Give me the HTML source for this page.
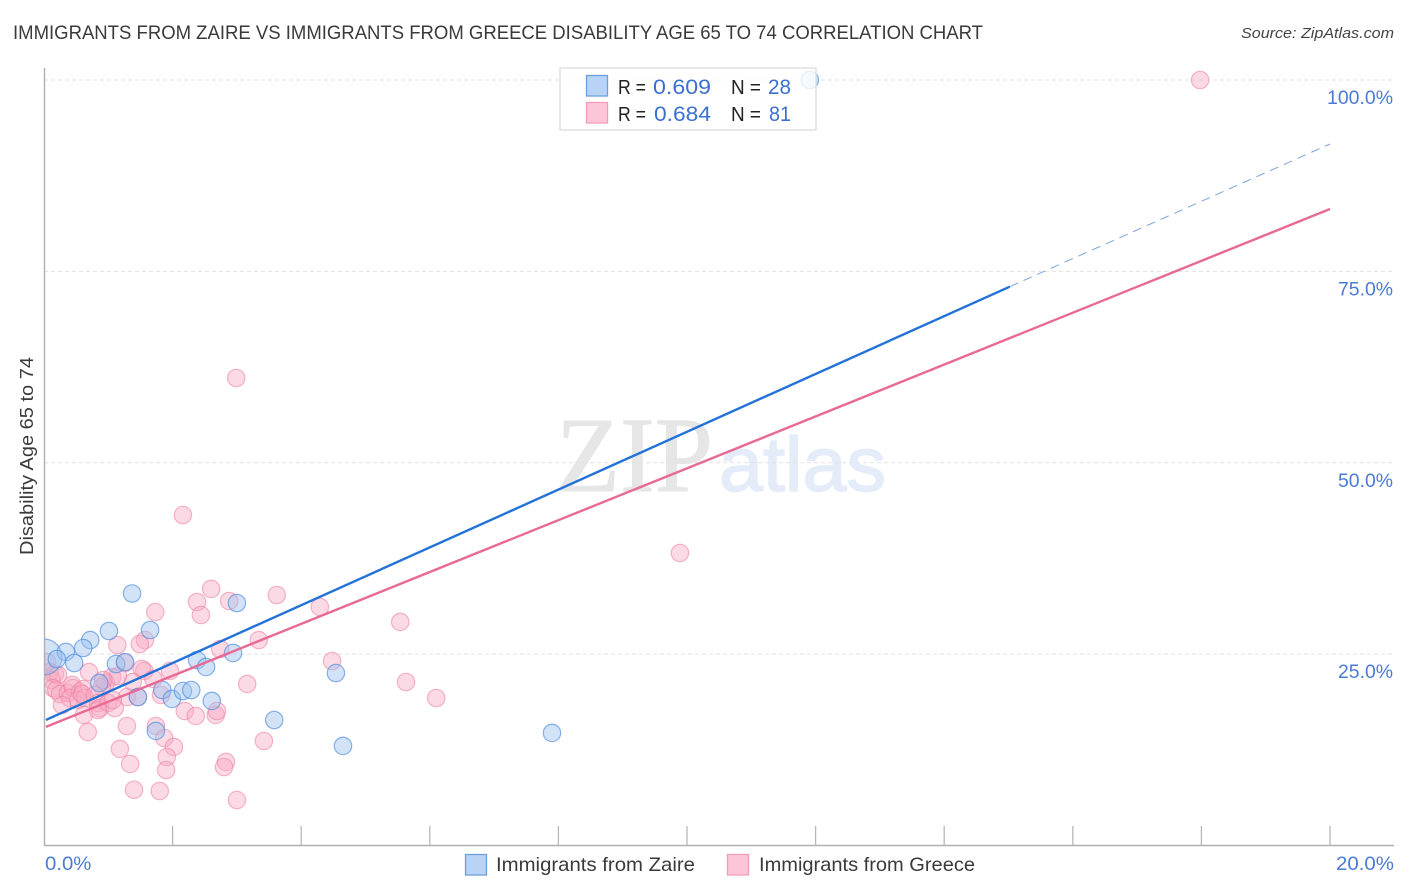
<!DOCTYPE html>
<html lang="en">
<head>
<meta charset="utf-8">
<title>Immigrants from Zaire vs Immigrants from Greece Disability Age 65 to 74 Correlation Chart</title>
<style>
html,body{margin:0;padding:0;background:#fff;width:1406px;height:892px;overflow:hidden}
svg{display:block;font-family:"Liberation Sans",sans-serif}
</style>
</head>
<body>
<svg id="chart" width="1406" height="892" viewBox="0 0 1406 892" xmlns="http://www.w3.org/2000/svg">
  <defs>
    <clipPath id="plot-clip"><rect x="44" y="60" width="1350" height="786"/></clipPath>
  </defs>
  <text x="13" y="39" font-size="19.5" fill="#3a3a3a" textLength="970" lengthAdjust="spacingAndGlyphs">IMMIGRANTS FROM ZAIRE VS IMMIGRANTS FROM GREECE DISABILITY AGE 65 TO 74 CORRELATION CHART</text>
  <text x="1394" y="38" font-size="15" font-style="italic" fill="#444" text-anchor="end" textLength="153" lengthAdjust="spacingAndGlyphs">Source: ZipAtlas.com</text>
  <g>
    <text x="556" y="491" font-family="'Liberation Serif',serif" font-size="107" fill="#e6e6e6" stroke="#e6e6e6" stroke-width="1" textLength="157" lengthAdjust="spacingAndGlyphs">ZIP</text>
    <text x="719" y="491" font-size="77" fill="#e3ecf8" stroke="#e3ecf8" stroke-width="1.5" textLength="167" lengthAdjust="spacingAndGlyphs">atlas</text>
  </g>
  <g id="grid"></g>
  <g id="points" clip-path="url(#plot-clip)"></g>
  <g id="axes"></g>
  <g id="trends"></g>
  <text transform="translate(33,456) rotate(-90)" font-size="18.5" fill="#3a3a3a" text-anchor="middle" textLength="198" lengthAdjust="spacingAndGlyphs">Disability Age 65 to 74</text>

  <g>
    <rect x="560" y="68" width="256" height="62" fill="#fff" fill-opacity="0.8" stroke="#dcdcdc" stroke-width="1.3"/>
    <rect x="586.5" y="75.5" width="21" height="20.5" fill="#b9d3f6" stroke="#6d9fdc" stroke-width="1.3"/>
    <rect x="586.5" y="102.5" width="21" height="20.5" fill="#fcc6d8" stroke="#f29db8" stroke-width="1.3"/>
    <g font-size="20" fill="#222">
      <text x="618" y="94" textLength="28" lengthAdjust="spacingAndGlyphs">R =</text>
      <text x="731" y="94" textLength="30" lengthAdjust="spacingAndGlyphs">N =</text>
      <text x="618" y="121" textLength="28" lengthAdjust="spacingAndGlyphs">R =</text>
      <text x="731" y="121" textLength="30" lengthAdjust="spacingAndGlyphs">N =</text>
    </g>
    <g font-size="21" fill="#3a70d0">
      <text x="653" y="94" textLength="58" lengthAdjust="spacingAndGlyphs">0.609</text>
      <text x="768" y="94" textLength="23" lengthAdjust="spacingAndGlyphs">28</text>
      <text x="654" y="121" textLength="57" lengthAdjust="spacingAndGlyphs">0.684</text>
      <text x="769" y="121" textLength="22" lengthAdjust="spacingAndGlyphs">81</text>
    </g>
  </g>

  <g>
    <rect x="465.5" y="854.5" width="21" height="20.5" fill="#b9d3f6" stroke="#6d9fdc" stroke-width="1.3"/>
    <text x="496" y="871" font-size="19.5" fill="#3a3a3a" textLength="199" lengthAdjust="spacingAndGlyphs">Immigrants from Zaire</text>
    <rect x="727.5" y="854.5" width="21" height="20.5" fill="#fcc6d8" stroke="#f29db8" stroke-width="1.3"/>
    <text x="759" y="871" font-size="19.5" fill="#3a3a3a" textLength="216" lengthAdjust="spacingAndGlyphs">Immigrants from Greece</text>
  </g>
</svg>
<script>
// Chart data (percent units)
const xTickValues = [2, 4, 6, 8, 10, 12, 14, 16, 18, 20];
const yGridValues = [25, 50, 75, 100];
const yTickLabels = ['25.0%', '50.0%', '75.0%', '100.0%'];
const xEndLabels = ['0.0%', '20.0%'];
const xEndValues = [0, 20];

const zaireX = [1.37,3.00,1.65,1.01,0.72,0.61,0.34,0.20,0.47,1.12,1.26,2.94,2.38,2.52,4.54,0.86,1.84,1.99,2.16,2.29,1.46,2.61,1.74,3.58,4.65,7.90,11.91];
const zaireY = [32.92,31.68,28.15,28.02,26.84,25.80,25.28,24.36,23.84,23.71,23.97,25.15,24.23,23.32,22.53,21.23,20.31,19.14,20.18,20.31,19.40,18.88,14.96,16.39,13.00,14.70,100];
const zaireLargeX = [0];
const zaireLargeY = [24.62];

const greeceX = [2.60,2.38,2.44,2.88,3.62,4.29,1.73,1.57,1.49,1.14,3.34,2.74,4.48,3.16,1.56,1.52,1.96,1.26,0.70,1.06,0.96,1.38,1.70,0.90,1.29,1.46,1.82,2.19,2.36,2.67,2.69,1.74,1.29,0.68,1.87,2.02,1.91,1.18,1.34,1.90,1.40,1.80,2.83,2.80,3.00,3.42,2.99,2.16,9.89,5.54,5.63,6.10,17.98,0.05,0.09,0.17,0.12,0.22,0.14,0.19,0.25,0.37,0.44,0.45,0.40,0.56,0.61,0.53,0.64,0.59,0.28,0.62,0.79,0.84,0.87,0.84,1.00,1.10,1.07,1.15,0.92];
const greeceY = [33.51,31.81,30.11,31.94,32.72,31.16,30.50,26.84,26.32,26.19,26.84,25.67,24.10,21.10,22.80,23.06,22.80,23.84,22.66,22.01,21.23,21.36,21.75,20.71,19.40,19.40,19.66,17.57,16.92,17.05,17.57,15.61,15.61,14.83,14.04,12.87,11.56,12.61,10.65,9.86,7.28,7.12,10.91,10.25,5.94,13.65,61.07,43.17,38.21,29.20,21.36,19.27,100,23.97,22.66,22.40,21.62,22.27,20.57,20.31,19.79,19.92,20.97,20.57,19.27,20.05,20.44,19.01,19.27,19.79,18.35,17.05,19.66,18.62,17.96,17.70,18.62,17.96,19.01,22.14,21.62];

const zaireTrendX = [0.03, 15.02];
const zaireTrendY = [16.4, 73.0];
const zaireDashX = [15.02, 20];
const zaireDashY = [73.0, 91.64];
const greeceTrendX = [0.03, 20];
const greeceTrendY = [15.5, 83.15];

// Axis functions
const xScale = v => 44 + v * 64.3;
const yScale = v => 845.5 - v * 7.655;

const NS = 'http://www.w3.org/2000/svg';
function make(tag, attrs, parent) {
  const el = document.createElementNS(NS, tag);
  for (const k in attrs) el.setAttribute(k, attrs[k]);
  parent.appendChild(el);
  return el;
}

const grid = document.getElementById('grid');
const axes = document.getElementById('axes');
const points = document.getElementById('points');
const trends = document.getElementById('trends');

yGridValues.forEach((v, i) => {
  const line = make('line', {x1: 44, x2: 1394, y1: yScale(v), y2: yScale(v), stroke: '#e2e2e2', 'stroke-width': 1, 'stroke-dasharray': '4 3'}, grid);
  
  
  const label = make('text', {x: 1393, y: yScale(v) + 24, 'text-anchor': 'end', 'font-size': 19.5, fill: '#4a7bd4', textLength: yTickLabels[i].length * 11, lengthAdjust: 'spacingAndGlyphs'}, axes);
  label.textContent = yTickLabels[i];
  
  
});

const yAxis = make('line', {x1: 44.5, x2: 44.5, y1: 68, y2: 846, stroke: '#b0b0b0', 'stroke-width': 1.4}, axes);


const xAxis = make('line', {x1: 44, x2: 1394, y1: 845.5, y2: 845.5, stroke: '#b0b0b0', 'stroke-width': 1.4}, axes);



xTickValues.forEach(v => {
  const tick = make('line', {x1: xScale(v), x2: xScale(v), y1: 826, y2: 845, stroke: '#b8b8b8', 'stroke-width': 1.3}, axes);
  
  
});

xEndValues.forEach((v, i) => {
  const label = make('text', {x: v === 0 ? xScale(v) + 1 : 1394, y: 870, 'text-anchor': v === 0 ? 'start' : 'end', 'font-size': 19.5, fill: '#4a7bd4', textLength: xEndLabels[i].length * 11.6, lengthAdjust: 'spacingAndGlyphs'}, axes);
  label.textContent = xEndLabels[i];
  
  
});

function drawGreecePoint(x, y) {
  const c = make('circle', {cx: xScale(x), cy: yScale(y), r: 8.7, fill: '#f9a8c2', 'fill-opacity': 0.42, stroke: '#ec85a5', 'stroke-opacity': 0.6, 'stroke-width': 1.2}, points);
  
  
}
function drawZairePoint(x, y, r) {
  const c = make('circle', {cx: xScale(x), cy: yScale(y), r: r, fill: '#9cc2f0', 'fill-opacity': 0.45, stroke: '#4a8bdc', 'stroke-opacity': 0.65, 'stroke-width': 1.2}, points);
  
  
}

greeceX.forEach((x, i) => drawGreecePoint(x, greeceY[i]));
zaireLargeX.forEach((x, i) => drawZairePoint(x, zaireLargeY[i], 18));
zaireX.forEach((x, i) => drawZairePoint(x, zaireY[i], 8.7));

const trendZaire = make('line', {x1: xScale(zaireTrendX[0]), y1: yScale(zaireTrendY[0]), x2: xScale(zaireTrendX[1]), y2: yScale(zaireTrendY[1]), stroke: '#2272d8', 'stroke-width': 2.4}, trends);


const trendZaireDash = make('line', {x1: xScale(zaireDashX[0]), y1: yScale(zaireDashY[0]), x2: xScale(zaireDashX[1]), y2: yScale(zaireDashY[1]), stroke: '#7ba4dc', 'stroke-width': 1, 'stroke-dasharray': '9 6'}, trends);


const trendGreece = make('line', {x1: xScale(greeceTrendX[0]), y1: yScale(greeceTrendY[0]), x2: xScale(greeceTrendX[1]), y2: yScale(greeceTrendY[1]), stroke: '#e86a94', 'stroke-width': 2.4}, trends);


</script>
</body>
</html>
